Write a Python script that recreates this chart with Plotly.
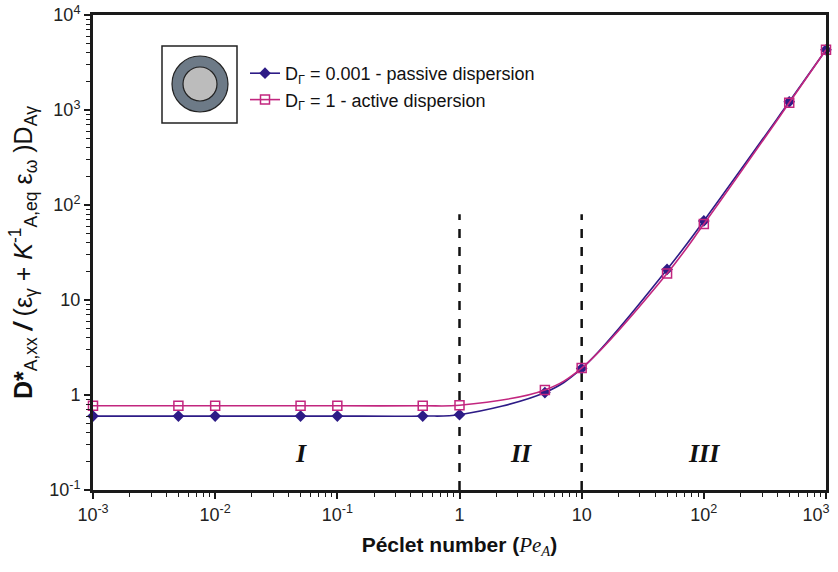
import numpy as np
import plotly.graph_objects as go

# Péclet numbers and dimensionless longitudinal dispersion
pe = [0.001, 0.005, 0.01, 0.05, 0.1, 0.5, 1, 5, 10, 50, 100, 500, 1000]
d_passive = [0.60, 0.60, 0.60, 0.60, 0.60, 0.60, 0.62, 1.06, 1.90, 21.0, 68.0, 1220, 4300]
d_active = [0.77, 0.77, 0.77, 0.77, 0.77, 0.77, 0.78, 1.13, 1.92, 19.0, 63.0, 1190, 4300]

x_ticks = [1e-3, 1e-2, 1e-1, 1, 10, 100, 1000]
# trailing no-break spaces keep the last label inside the page edge
x_labels = ["10<sup>-3</sup>", "10<sup>-2</sup>", "10<sup>-1</sup>", "1", "10",
            "10<sup>2</sup>", "10<sup>3</sup>\u00a0\u00a0\u00a0\u00a0"]
y_ticks = [0.1, 1, 10, 100, 1000, 10000]
y_labels = ["10<sup>-1</sup>", "1", "10", "10<sup>2</sup>", "10<sup>3</sup>", "10<sup>4</sup>"]

# regime boundaries and regime labels
boundaries = [1, 10]
boundary_top = 80
regimes = ["I", "II", "III"]
regime_x = [0.05, 3.2, 100]
regime_y = 0.24

blue = "#2d1b86"
magenta = "#c2267f"
axis_col = "#1a1a1a"
font = "Liberation Sans, Arial, sans-serif"

fig = go.Figure()

for b in boundaries:
    fig.add_trace(go.Scatter(x=[b, b], y=[0.1, boundary_top], mode="lines",
                             line=dict(color="#111111", width=2.5, dash="dash"),
                             showlegend=False, hoverinfo="skip"))

fig.add_trace(go.Scatter(
    x=pe, y=d_passive, mode="lines+markers", line_shape="spline",
    name="D<sub>Γ</sub> = 0.001 - passive dispersion",
    line=dict(color=blue, width=1.6),
    marker=dict(symbol="diamond", size=9, color=blue),
    cliponaxis=False))
fig.add_trace(go.Scatter(
    x=pe, y=d_active, mode="lines+markers", line_shape="spline",
    name="D<sub>Γ</sub> = 1 - active dispersion",
    line=dict(color=magenta, width=1.6),
    marker=dict(symbol="square-open", size=9, color=magenta, line=dict(width=1.5)),
    cliponaxis=False))

minor_vals = []
for e in range(-3, 4):
    for k in range(2, 10):
        minor_vals.append(k * 10.0 ** e)

axis_common = dict(
    type="log", showgrid=False, zeroline=False, automargin=False,
    showline=True, linecolor=axis_col, linewidth=3, mirror=True,
    ticks="outside", ticklen=6, tickwidth=1.5, tickcolor=axis_col,
    tickfont=dict(family=font, size=18, color="#222222"),
    ticklabeloverflow="allow",
)

fig.update_xaxes(
    **axis_common, range=[-3, 3], tickvals=x_ticks, ticktext=x_labels,
    minor=dict(tickvals=[v for v in minor_vals if 1e-3 < v < 1e3],
               ticks="outside", ticklen=4, tickwidth=1.2, tickcolor=axis_col),
    title=dict(text="<b>Péclet number (</b><i><span style='font-family:Liberation Serif'>Pe<sub>A</sub></span></i><b>)</b>",
               font=dict(family=font, size=21, color="#111111"), standoff=14),
)
fig.update_yaxes(
    **axis_common, range=[-1, 4], tickvals=y_ticks, ticktext=y_labels,
    minor=dict(tickvals=[v for v in minor_vals if 0.1 < v < 1e4],
               ticks="outside", ticklen=4, tickwidth=1.2, tickcolor=axis_col),
    title=dict(text="<b>D*</b><sub>A,xx</sub> <b><i>/</i></b> (ε<sub>γ</sub> + "
                    "<i>K</i><sup>-1</sup><sub>A,eq</sub> ε<sub>ω</sub> )D<sub>Aγ</sub>",
               font=dict(family=font, size=25, color="#111111"), standoff=10),
)

for label, xv in zip(regimes, regime_x):
    fig.add_annotation(x=np.log10(xv), y=np.log10(regime_y), text="<b><i>%s</i></b>" % label,
                       showarrow=False, xref="x", yref="y",
                       font=dict(family="Liberation Serif, serif", size=26, color="#111111"))

# pore cross-section icon in the inset box
fig.add_shape(type="rect", xref="paper", yref="paper",
              x0=(162 - 93) / 733, x1=(237 - 93) / 733,
              y0=(490 - 123) / 475, y1=(490 - 46) / 475,
              line=dict(color="#222222", width=1.5), fillcolor="white")
cx, cy = 200, 84
for r, fill in [(28, "#6d7a87"), (17, "#bcbcbc")]:
    fig.add_shape(type="circle", xref="paper", yref="paper",
                  x0=(cx - r - 93) / 733, x1=(cx + r - 93) / 733,
                  y0=(490 - cy - r) / 475, y1=(490 - cy + r) / 475,
                  line=dict(color="#222222", width=1.2), fillcolor=fill)

fig.update_layout(
    width=838, height=572,
    margin=dict(l=93, r=12, t=15, b=82),
    paper_bgcolor="white", plot_bgcolor="white",
    font=dict(family=font, color="#111111"),
    legend=dict(x=(245 - 93) / 733, y=(490 - 55) / 475, xanchor="left", yanchor="top",
                bgcolor="rgba(0,0,0,0)", font=dict(family=font, size=18, color="#111111"),
                itemwidth=30, tracegroupgap=0),
)

fig.write_html("out.html")
